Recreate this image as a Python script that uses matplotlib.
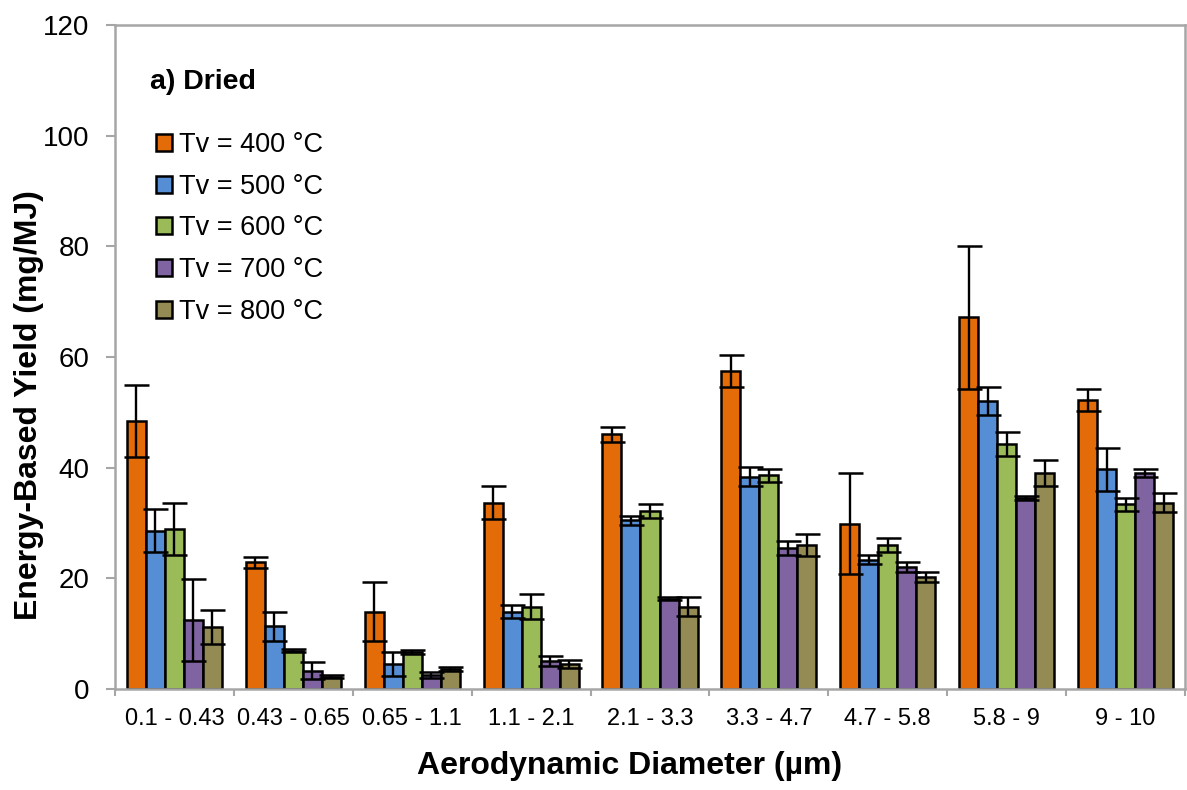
import numpy as np
import matplotlib
matplotlib.use("Agg")
import matplotlib.pyplot as plt

plt.rcParams['font.family'] = ['Liberation Sans', 'DejaVu Sans']

# size bins (aerodynamic diameter, um)
bins = ["0.1 - 0.43", "0.43 - 0.65", "0.65 - 1.1", "1.1 - 2.1", "2.1 - 3.3",
        "3.3 - 4.7", "4.7 - 5.8", "5.8 - 9", "9 - 10"]
temps = ["Tv = 400 °C", "Tv = 500 °C", "Tv = 600 °C", "Tv = 700 °C", "Tv = 800 °C"]

# mean energy-based yield (mg/MJ), one list per temperature
y400 = [48.4, 22.9, 14.0, 33.7, 46.0, 57.4, 29.9, 67.2, 52.2]
y500 = [28.6, 11.3, 4.5, 14.0, 30.5, 38.4, 23.4, 52.0, 39.7]
y600 = [28.9, 6.9, 6.7, 14.9, 32.2, 38.6, 26.0, 44.3, 33.4]
y700 = [12.5, 3.3, 2.5, 5.1, 16.3, 25.5, 22.1, 34.5, 39.0]
y800 = [11.2, 2.2, 3.6, 4.5, 14.9, 26.0, 20.2, 39.0, 33.7]

# standard deviations
e400 = [6.5, 1.0, 5.3, 2.9, 1.3, 2.9, 9.1, 12.9, 2.0]
e500 = [3.9, 2.7, 2.2, 1.2, 0.8, 1.8, 0.8, 2.5, 3.9]
e600 = [4.7, 0.3, 0.4, 2.2, 1.3, 1.2, 1.2, 2.2, 1.2]
e700 = [7.4, 1.5, 0.5, 0.9, 0.3, 1.2, 0.9, 0.4, 0.7]
e800 = [3.0, 0.3, 0.4, 0.7, 1.7, 2.0, 0.9, 2.4, 1.7]

colors = ["#E36C09", "#558ED5", "#9BBB59", "#8064A2", "#948A54"]

means = [y400, y500, y600, y700, y800]
errs = [e400, e500, e600, e700, e800]

fig = plt.figure(figsize=(11.87, 7.9), dpi=100)
ax = fig.add_axes([115 / 1187, 101 / 790, 1070 / 1187, 664 / 790])

x = np.arange(len(bins))
w = 0.16
for i in range(5):
    ax.bar(x + (i - 2) * w, means[i], w, color=colors[i], edgecolor="black",
           linewidth=1.8, label=temps[i], zorder=2)
    ax.errorbar(x + (i - 2) * w, means[i], yerr=errs[i], fmt="none",
                ecolor="black", elinewidth=1.7, capsize=9, capthick=1.8, zorder=3)

ax.set_xlim(-0.5, len(bins) - 0.5)
ax.set_ylim(0, 120)
ax.set_yticks(np.arange(0, 121, 20))
ax.set_xticks(x)
ax.set_xticklabels(bins, fontsize=17)
ax.set_xticks(np.arange(len(bins) + 1) - 0.5, minor=True)
ax.tick_params(axis="x", which="major", length=0, pad=14)
ax.tick_params(axis="x", which="minor", length=5, width=1.5, color="#a6a6a6")
ax.tick_params(axis="y", labelsize=20, length=6.5, width=1.5, color="#a6a6a6", pad=12)

for s in ax.spines.values():
    s.set_color("#a6a6a6")
    s.set_linewidth(1.8)

ax.set_xlabel("Aerodynamic Diameter (µm)", fontsize=23, fontweight="bold")
ax.xaxis.set_label_coords(0.481, -0.094)
ax.set_ylabel("Energy-Based Yield (mg/MJ)", fontsize=23, fontweight="bold")
ax.yaxis.set_label_coords(-0.066, 0.428)

ax.text(150 / 1187, 1 - 82 / 790, "a) Dried", transform=fig.transFigure,
        fontsize=20.5, fontweight="bold", va="center", ha="left")
ax.legend(loc="upper left", bbox_to_anchor=(156 / 1187, 1 - 132 / 790),
          bbox_transform=fig.transFigure, frameon=False, fontsize=19.5,
          handlelength=0.6, handleheight=0.6, handletextpad=0.25,
          labelspacing=0.58, borderpad=0, borderaxespad=0)

fig.savefig("out.png", dpi=100)
